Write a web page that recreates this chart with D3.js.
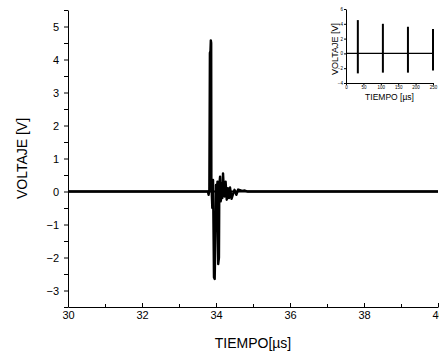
<!DOCTYPE html>
<html>
<head>
<meta charset="utf-8">
<script src="https://cdn.jsdelivr.net/npm/d3@7"></script>
<style>
  html, body { margin: 0; padding: 0; background: #fff; }
  svg { display: block; font-family: "Liberation Sans", Arial, sans-serif; }
  .axis path, .axis line { stroke: #000; stroke-width: 1; }
  .axis text { fill: #000; }
</style>
</head>
<body>
<svg id="chart" width="439" height="353"></svg>
<script>
// ---- main chart data (time in µs, voltage in V) ----
const mainTimes = [30.0, 33.78, 33.80, 33.82, 33.835, 33.85, 33.86, 33.87, 33.875, 33.90, 33.92, 33.945,
  33.965, 33.99, 34.00, 34.02, 34.04, 34.06, 34.08, 34.09, 34.11, 34.13, 34.15, 34.17, 34.19, 34.21,
  34.23, 34.26, 34.29, 34.32, 34.35, 34.38, 34.42, 34.46, 34.50, 34.55, 34.60, 34.65, 34.70, 34.78,
  34.85, 40.0];
const mainVolts = [0, 0, -0.1, 0.05, 4.2, 4.25, 4.58, 4.5, 0.3, -0.5, 0.35, -2.6,
  -2.65, -1.0, 0.2, -0.4, 0.3, -2.2, -2.0, 0.2, 0.45, -0.3, 0.25, -0.2, 0.55, 0.1,
  -0.15, 0.3, -0.25, 0.1, -0.2, 0.12, -0.22, -0.08, 0.05, -0.1, 0.06, 0.04, 0.02, 0.03,
  0.0, 0];
const xMajorTicks = [30, 32, 34, 36, 38, 40];
const xMinorTicks = [31, 33, 35, 37, 39];
const yMajorTicks = [-3, -2, -1, 0, 1, 2, 3, 4, 5];
const yMinorTicks = [-3.5, -2.5, -1.5, -0.5, 0.5, 1.5, 2.5, 3.5, 4.5, 5.5];
const xLabel = "TIEMPO[\u00b5s]";
const yLabel = "VOLTAJE [V]";

// ---- inset data ----
const insetBurstTimes = [34, 106, 178, 250];
const insetPeaks = [4.5, 4.0, 3.6, 3.3];
const insetTroughs = [-2.7, -2.6, -2.6, -2.3];
const insetXTicks = [0, 50, 100, 150, 200, 250];
const insetYTicks = [-4, -2, 0, 2, 4, 6];
const insetXLabel = "TIEMPO [\u00b5s]";
const insetYLabel = "VOLTAJE [V]";

const svg = d3.select("#chart");

// ---- main chart ----
const x = d3.scaleLinear().domain([30, 40]).range([68, 438]);
const y = d3.scaleLinear().domain([-3.5, 5.5]).range([307, 10]);

svg.append("line")
  .attr("x1", x(30)).attr("x2", x(40))
  .attr("y1", y(0)).attr("y2", y(0))
  .attr("stroke", "#000").attr("stroke-width", 2);

const mainData = mainTimes.map((t, i) => [t, mainVolts[i]]);
svg.append("path")
  .datum(mainData)
  .attr("fill", "none")
  .attr("stroke", "#000")
  .attr("stroke-width", 2.4)
  .attr("stroke-linejoin", "round")
  .attr("d", d3.line().x(d => x(d[0])).y(d => y(d[1])));

const gx = svg.append("g").attr("class", "axis")
  .attr("transform", `translate(0,${y(-3.5)})`)
  .call(d3.axisBottom(x).tickValues(xMajorTicks).tickSize(-4).tickSizeOuter(0).tickPadding(4)
    .tickFormat(d3.format("d")));
gx.selectAll("text").attr("font-size", 11);
svg.append("g").attr("class", "axis")
  .attr("transform", `translate(0,${y(-3.5)})`)
  .call(d3.axisBottom(x).tickValues(xMinorTicks).tickSize(-3).tickFormat(""))
  .select(".domain").remove();

const gy = svg.append("g").attr("class", "axis")
  .attr("transform", `translate(${x(30)},0)`)
  .call(d3.axisLeft(y).tickValues(yMajorTicks).tickSize(4).tickSizeOuter(0).tickPadding(5)
    .tickFormat(d3.format("d")));
gy.selectAll("text").attr("font-size", 11);
svg.append("g").attr("class", "axis")
  .attr("transform", `translate(${x(30)},0)`)
  .call(d3.axisLeft(y).tickValues(yMinorTicks).tickSize(4).tickFormat(""))
  .select(".domain").remove();
svg.selectAll(".axis .domain").attr("fill", "none");

svg.append("text")
  .attr("x", (x(30) + x(40)) / 2).attr("y", 348)
  .attr("text-anchor", "middle").attr("font-size", 14)
  .text(xLabel);
svg.append("text")
  .attr("transform", `translate(27,${(y(-3.5) + y(5.5)) / 2}) rotate(-90)`)
  .attr("text-anchor", "middle").attr("font-size", 14)
  .text(yLabel);

// ---- inset ----
const ix = d3.scaleLinear().domain([0, 250]).range([346, 433]);
const iy = d3.scaleLinear().domain([-4, 6]).range([83, 9]);

svg.append("line")
  .attr("x1", ix(0)).attr("x2", ix(250))
  .attr("y1", iy(0)).attr("y2", iy(0))
  .attr("stroke", "#000").attr("stroke-width", 1.3);

svg.append("g").selectAll("line.burst")
  .data(insetBurstTimes)
  .join("line")
  .attr("class", "burst")
  .attr("x1", d => ix(d)).attr("x2", d => ix(d))
  .attr("y1", (d, i) => iy(insetPeaks[i]))
  .attr("y2", (d, i) => iy(insetTroughs[i]))
  .attr("stroke", "#000").attr("stroke-width", 2);

const igx = svg.append("g").attr("class", "axis")
  .attr("transform", `translate(0,${iy(-4)})`)
  .call(d3.axisBottom(ix).tickValues(insetXTicks).tickSize(2).tickSizeOuter(0).tickPadding(1)
    .tickFormat(d3.format("d")));
igx.selectAll("text").attr("font-size", 4.5).attr("fill", "#333");
igx.selectAll("path, line").attr("stroke-width", 0.8);

const igy = svg.append("g").attr("class", "axis")
  .attr("transform", `translate(${ix(0)},0)`)
  .call(d3.axisLeft(iy).tickValues(insetYTicks).tickSize(2).tickSizeOuter(0).tickPadding(1)
    .tickFormat(d3.format("d")));
igy.selectAll("text").attr("font-size", 4.5).attr("fill", "#333");
igy.selectAll("path, line").attr("stroke-width", 0.8);

svg.append("text")
  .attr("x", (ix(0) + ix(250)) / 2).attr("y", 100)
  .attr("text-anchor", "middle").attr("font-size", 8.5)
  .text(insetXLabel);
svg.append("text")
  .attr("transform", `translate(338,${(iy(-4) + iy(6)) / 2 + 3}) rotate(-90)`)
  .attr("text-anchor", "middle").attr("font-size", 9)
  .text(insetYLabel);
</script>
</body>
</html>
